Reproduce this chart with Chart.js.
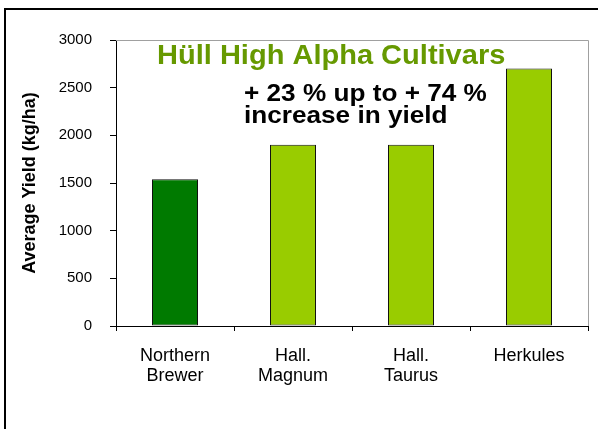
<!DOCTYPE html>
<html>
<head>
<meta charset="utf-8">
<script src="https://cdn.jsdelivr.net/npm/chart.js@4/dist/chart.umd.min.js"></script>
<style>
  html, body { margin: 0; padding: 0; background: #fff; }
  #wrap { position: relative; width: 598px; height: 429px; }
</style>
</head>
<body>
<div id="wrap"><canvas id="c" width="598" height="429"></canvas></div>
<script>
const categories = [["Northern", "Brewer"], ["Hall.", "Magnum"], ["Hall.", "Taurus"], "Herkules"];
const yieldValues = [1540, 1900, 1900, 2700];
const barColors = ["#007A00", "#99CC00", "#99CC00", "#99CC00"];
const yTicks = [0, 500, 1000, 1500, 2000, 2500, 3000];
const titleText = "Hüll High Alpha Cultivars";
const noteLines = ["+ 23 % up to + 74 %", "increase in yield"];
const yTitle = "Average Yield (kg/ha)";

const FONT = "Arial, 'Liberation Sans', sans-serif";

function stretchedText(ctx, text, x, y, sx) {
  ctx.save();
  ctx.translate(x, y);
  ctx.scale(sx, 1);
  ctx.fillText(text, 0, 0);
  ctx.restore();
}

const framePlugin = {
  id: 'frame',
  beforeDraw(chart) {
    const ctx = chart.ctx;
    ctx.save();
    ctx.fillStyle = '#fff';
    ctx.fillRect(0, 0, chart.width, chart.height);
    ctx.strokeStyle = '#000';
    ctx.lineWidth = 2;
    ctx.strokeRect(5, 9, 700, 600);
    ctx.restore();
  },
  beforeDatasetsDraw(chart) {
    const ctx = chart.ctx;
    const a = chart.chartArea;
    ctx.save();
    ctx.strokeStyle = '#A0A0A0';
    ctx.lineWidth = 1;
    ctx.beginPath();
    ctx.moveTo(a.left, a.top + 0.5);
    ctx.lineTo(a.right + 0.5, a.top + 0.5);
    ctx.lineTo(a.right + 0.5, a.bottom);
    ctx.stroke();
    ctx.restore();
  },
  afterDatasetsDraw(chart) {
    const ctx = chart.ctx;
    const a = chart.chartArea;
    ctx.save();
    ctx.textAlign = 'left';
    ctx.textBaseline = 'alphabetic';
    ctx.fillStyle = '#669900';
    ctx.font = "bold 27px " + FONT;
    stretchedText(ctx, titleText, a.left + 41, 64, 1.075);
    ctx.fillStyle = '#000';
    ctx.font = "bold 24px " + FONT;
    stretchedText(ctx, noteLines[0], a.left + 128, 101, 1.09);
    stretchedText(ctx, noteLines[1], a.left + 128, 123, 1.09);
    ctx.restore();
  }
};

new Chart(document.getElementById('c'), {
  type: 'bar',
  data: {
    labels: categories,
    datasets: [{
      data: yieldValues,
      backgroundColor: barColors,
      borderColor: '#111',
      borderWidth: 1,
      borderSkipped: false,
      categoryPercentage: 1.0,
      barPercentage: 0.39
    }]
  },
  options: {
    responsive: false,
    animation: false,
    devicePixelRatio: 1,
    layout: { padding: { top: 40, right: 10, left: 0, bottom: 0 } },
    plugins: { legend: { display: false }, tooltip: { enabled: false } },
    scales: {
      x: {
        grid: { display: true, drawOnChartArea: false, drawTicks: true, tickLength: 5, color: '#000', offset: true },
        border: { display: true, color: '#000', width: 1 },
        ticks: { color: '#000', font: { family: FONT, size: 18, lineHeight: 1.12 }, padding: 15, maxRotation: 0, autoSkip: false },
        afterFit(scale) { scale.height = 103; }
      },
      y: {
        min: 0, max: 3000,
        afterBuildTicks(scale) { scale.ticks = yTicks.map(v => ({ value: v })); },
        grid: { display: true, drawOnChartArea: false, drawTicks: true, tickLength: 6, color: '#000' },
        border: { display: true, color: '#000', width: 1 },
        ticks: { color: '#000', font: { family: FONT, size: 15 }, padding: 18, callback: (v) => String(v) },
        title: { display: true, text: yTitle, color: '#000', font: { family: FONT, size: 18, weight: 'bold' }, padding: { top: 19, bottom: 0 } },
        afterFit(scale) { scale.width = 116; }
      }
    }
  },
  plugins: [framePlugin]
});
</script>
</body>
</html>
